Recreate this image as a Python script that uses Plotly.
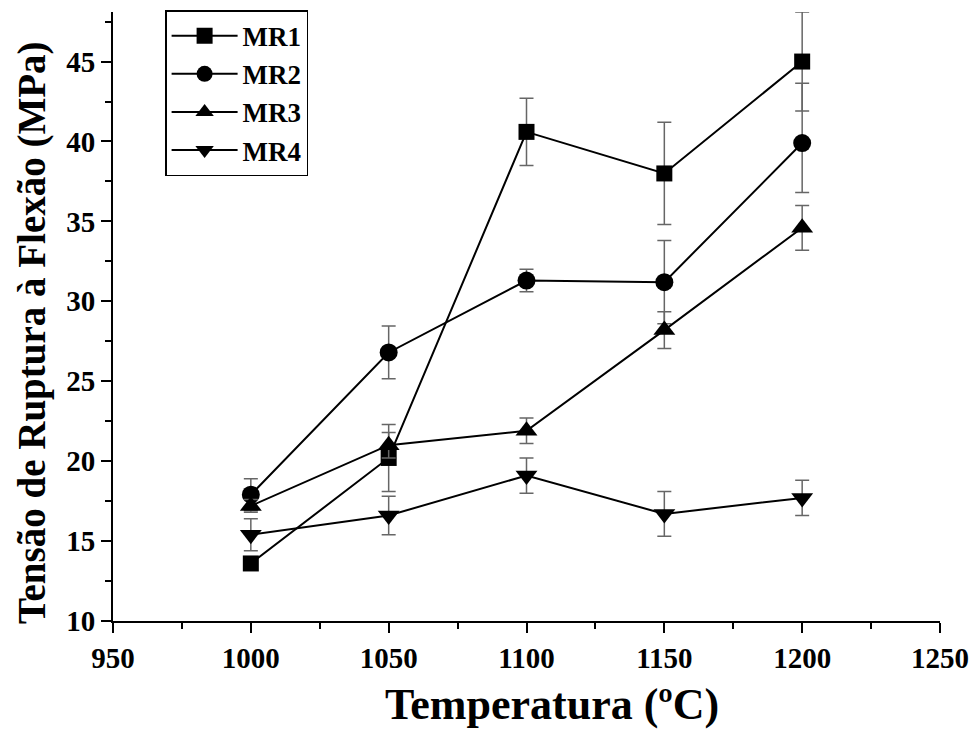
import plotly.graph_objects as go

temps = [1000, 1050, 1100, 1150, 1200]
mr1 = [13.6, 20.2, 40.6, 38.0, 45.0]
mr1_err = [0.4, 2.1, 2.1, 3.2, 3.1]
mr2 = [17.9, 26.8, 31.3, 31.2, 39.9]
mr2_err_plus = [1.0, 1.65, 0.7, 2.6, 3.75]
mr2_err_minus = [1.0, 1.65, 0.7, 2.6, 3.1]
mr3 = [17.2, 21.0, 21.9, 28.2, 34.6]
mr3_err = [0.4, 0.8, 0.8, 1.15, 1.4]
mr4 = [15.4, 16.6, 19.1, 16.7, 17.7]
mr4_err = [1.0, 1.2, 1.1, 1.4, 1.1]

names = ["MR1", "MR2", "MR3", "MR4"]
symbols = ["square", "circle", "triangle-up", "triangle-down"]
sizes = [16, 18, 19, 19]

series = [
    (mr1, mr1_err, mr1_err),
    (mr2, mr2_err_plus, mr2_err_minus),
    (mr3, mr3_err, mr3_err),
    (mr4, mr4_err, mr4_err),
]

x_title = "Temperatura (ºC)"
y_title = "Tensão de Ruptura à Flexão (MPa)"

FONT = "Liberation Serif"
fig = go.Figure()
for (vals, ep, em), name, sym, sz in zip(series, names, symbols, sizes):
    fig.add_trace(go.Scatter(
        x=temps, y=vals, name=name, mode="lines+markers",
        line=dict(color="black", width=2),
        marker=dict(symbol=sym, size=sz, color="black"),
        error_y=dict(type="data", symmetric=False, array=ep, arrayminus=em,
                     color="#666666", thickness=1.5, width=7),
        cliponaxis=True,
    ))

fig.update_layout(
    width=972, height=735,
    margin=dict(l=113, r=32, t=10, b=114),
    plot_bgcolor="white", paper_bgcolor="white",
    font=dict(family=FONT, color="black"),
    legend=dict(
        x=0.063, y=1.003, xanchor="left", yanchor="top",
        bordercolor="black", borderwidth=1.5, bgcolor="white",
        font=dict(family=FONT, size=27, color="black", weight="bold"),
        tracegroupgap=0, itemwidth=66,
    ),
    xaxis=dict(
        range=[950, 1250], tickmode="linear", tick0=950, dtick=50, automargin=False,
        showgrid=False, zeroline=False, showline=True, linecolor="black", linewidth=2,
        ticks="outside", ticklen=10, tickwidth=2, tickcolor="black",
        minor=dict(ticks="outside", ticklen=6, tickwidth=2, tickcolor="black", dtick=25, tick0=950),
        tickfont=dict(family=FONT, size=29, color="black", weight="bold"),
    ),
    yaxis=dict(
        range=[10, 48.1], tickmode="linear", tick0=10, dtick=5, automargin=False,
        showgrid=False, zeroline=False, showline=True, linecolor="black", linewidth=2,
        ticks="outside", ticklen=10, tickwidth=2, tickcolor="black",
        minor=dict(ticks="outside", ticklen=6, tickwidth=2, tickcolor="black", dtick=2.5, tick0=10),
        tickfont=dict(family=FONT, size=29, color="black", weight="bold"),
    ),
    annotations=[
        dict(text=x_title, xref="paper", yref="paper", x=0.531, y=-0.1375,
             xanchor="center", yanchor="middle", showarrow=False,
             font=dict(family=FONT, size=44, color="black", weight="bold")),
        dict(text=y_title, xref="paper", yref="paper", x=-0.098, y=0.473,
             xanchor="center", yanchor="middle", showarrow=False, textangle=-90,
             font=dict(family=FONT, size=39, color="black", weight="bold")),
    ],
)

fig.write_html("out.html")
